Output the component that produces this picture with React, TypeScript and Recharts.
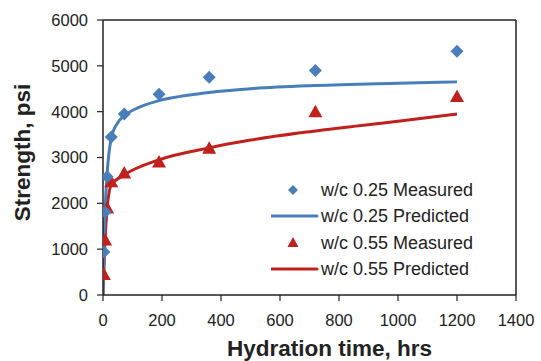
import {
  ComposedChart,
  Line,
  Scatter,
  XAxis,
  YAxis,
  ReferenceLine,
  Legend,
} from 'recharts';

const BLUE = '#4a7ebb';
const RED = '#c0211d';
const INK = '#222';
const FONT = '"Liberation Sans", Arial, sans-serif';

// measured strength, w/c 0.25
const measuredHours25 = [3, 7, 14, 28, 72, 190, 360, 720, 1200];
const measured25 = [940, 1810, 2580, 3450, 3950, 4380, 4750, 4900, 5320];

// measured strength, w/c 0.55
const measuredHours55 = [3, 7, 14, 28, 72, 190, 360, 720, 1200];
const measured55 = [450, 1200, 1900, 2470, 2660, 2900, 3200, 4000, 4330];

// predicted curves
const predHours25 = [0, 3, 7, 14, 28, 50, 72, 120, 190, 300, 360, 500, 720, 1000, 1200];
const pred25 = [0, 1100, 1850, 2650, 3420, 3760, 3910, 4090, 4240, 4370, 4420, 4500, 4570, 4620, 4650];

const predHours55 = [0, 3, 7, 14, 28, 72, 190, 360, 500, 720, 1000, 1200];
const pred55 = [0, 500, 1200, 1880, 2400, 2620, 2950, 3210, 3380, 3580, 3790, 3950];

const xTicks = [0, 200, 400, 600, 800, 1000, 1200, 1400];
const yTicks = [0, 1000, 2000, 3000, 4000, 5000, 6000];

const toPoints = (xs: number[], ys: number[]) => xs.map((x, i) => ({ x, y: ys[i] }));

const meas25 = toPoints(measuredHours25, measured25);
const meas55 = toPoints(measuredHours55, measured55);
const line25 = toPoints(predHours25, pred25);
const line55 = toPoints(predHours55, pred55);

const Diamond = (props: any) => {
  const { cx, cy } = props;
  const r = 6.5;
  return (
    <path
      d={`M${cx},${cy - r}L${cx + r},${cy}L${cx},${cy + r}L${cx - r},${cy}Z`}
      fill={BLUE}
    />
  );
};

const Triangle = (props: any) => {
  const { cx, cy } = props;
  return (
    <path
      d={`M${cx},${cy - 7}L${cx + 7},${cy + 5.5}L${cx - 7},${cy + 5.5}Z`}
      fill={RED}
    />
  );
};

const legendItems = [
  { label: 'w/c 0.25 Measured', color: BLUE, kind: 'diamond' },
  { label: 'w/c 0.25 Predicted', color: BLUE, kind: 'line' },
  { label: 'w/c 0.55 Measured', color: RED, kind: 'triangle' },
  { label: 'w/c 0.55 Predicted', color: RED, kind: 'line' },
];

const LegendBox = () => (
  <div style={{ fontFamily: FONT, fontSize: 18, color: INK, lineHeight: 1 }}>
    {legendItems.map(el => (
      <div key={el.label} style={{ display: 'flex', alignItems: 'center', height: 26.3 }}>
        <svg width={48} height={16} style={{ marginRight: 2 }}>
          {el.kind === 'line' && (
            <line x1={1} y1={8} x2={46} y2={8} stroke={el.color} strokeWidth={3} strokeLinecap="round" />
          )}
          {el.kind === 'diamond' && <path d="M22,3L27,8L22,13L17,8Z" fill={el.color} />}
          {el.kind === 'triangle' && <path d="M22,2L27.5,12L16.5,12Z" fill={el.color} />}
        </svg>
        <span>{el.label}</span>
      </div>
    ))}
  </div>
);

const XLabel = (props: any) => {
  const { viewBox } = props;
  return (
    <text
      x={viewBox.x + viewBox.width / 2 + 20}
      y={viewBox.y + viewBox.height - 5}
      textAnchor="middle"
      fontFamily={FONT}
      fontSize={22.5}
      fontWeight="bold"
      fill={INK}
    >
      Hydration time, hrs
    </text>
  );
};

const YLabel = (props: any) => {
  const { viewBox } = props;
  const cx = 22;
  const cy = viewBox.y + viewBox.height / 2 - 5;
  return (
    <text
      x={cx}
      y={cy}
      transform={`rotate(-90 ${cx} ${cy})`}
      textAnchor="middle"
      dominantBaseline="central"
      fontFamily={FONT}
      fontSize={22.5}
      fontWeight="bold"
      fill={INK}
    >
      Strength, psi
    </text>
  );
};

const tickStyle = { fontFamily: FONT, fontSize: 16.5, fill: INK };

const App = () => {
  return (
    <div style={{ position: 'absolute', left: 0, top: 0, background: '#fff' }}>
      <ComposedChart
        width={541}
        height={361}
        margin={{ top: 20, right: 25, bottom: 0, left: 43 }}
      >
        <XAxis
          type="number"
          dataKey="x"
          domain={[0, 1400]}
          ticks={xTicks}
          interval={0}
          height={66}
          tick={tickStyle}
          tickSize={6}
          tickMargin={13}
          axisLine={{ stroke: INK, strokeWidth: 1.5 }}
          tickLine={{ stroke: INK, strokeWidth: 1.2 }}
          allowDataOverflow
          label={<XLabel />}
        />
        <YAxis
          type="number"
          dataKey="y"
          domain={[0, 6000]}
          ticks={yTicks}
          interval={0}
          width={60}
          tick={tickStyle}
          tickSize={6}
          tickMargin={9}
          axisLine={{ stroke: INK, strokeWidth: 1.5 }}
          tickLine={{ stroke: INK, strokeWidth: 1.2 }}
          label={<YLabel />}
        />
        <ReferenceLine y={6000} stroke={INK} strokeWidth={1.5} />
        <ReferenceLine x={1400} stroke={INK} strokeWidth={1.5} />
        <Line
          data={line55}
          dataKey="y"
          type="monotone"
          stroke={RED}
          strokeWidth={3}
          dot={false}
          isAnimationActive={false}
          name="w/c 0.55 Predicted"
        />
        <Line
          data={line25}
          dataKey="y"
          type="monotone"
          stroke={BLUE}
          strokeWidth={3}
          dot={false}
          isAnimationActive={false}
          name="w/c 0.25 Predicted"
        />
        <Scatter
          data={meas55}
          dataKey="y"
          shape={<Triangle />}
          isAnimationActive={false}
          name="w/c 0.55 Measured"
        />
        <Scatter
          data={meas25}
          dataKey="y"
          shape={<Diamond />}
          isAnimationActive={false}
          name="w/c 0.25 Measured"
        />
        <Legend
          layout="horizontal"
          verticalAlign="middle"
          content={<LegendBox />}
          wrapperStyle={{ position: 'absolute', left: 271, top: 177, width: 'auto' }}
        />
      </ComposedChart>
    </div>
  );
};

export default App;
